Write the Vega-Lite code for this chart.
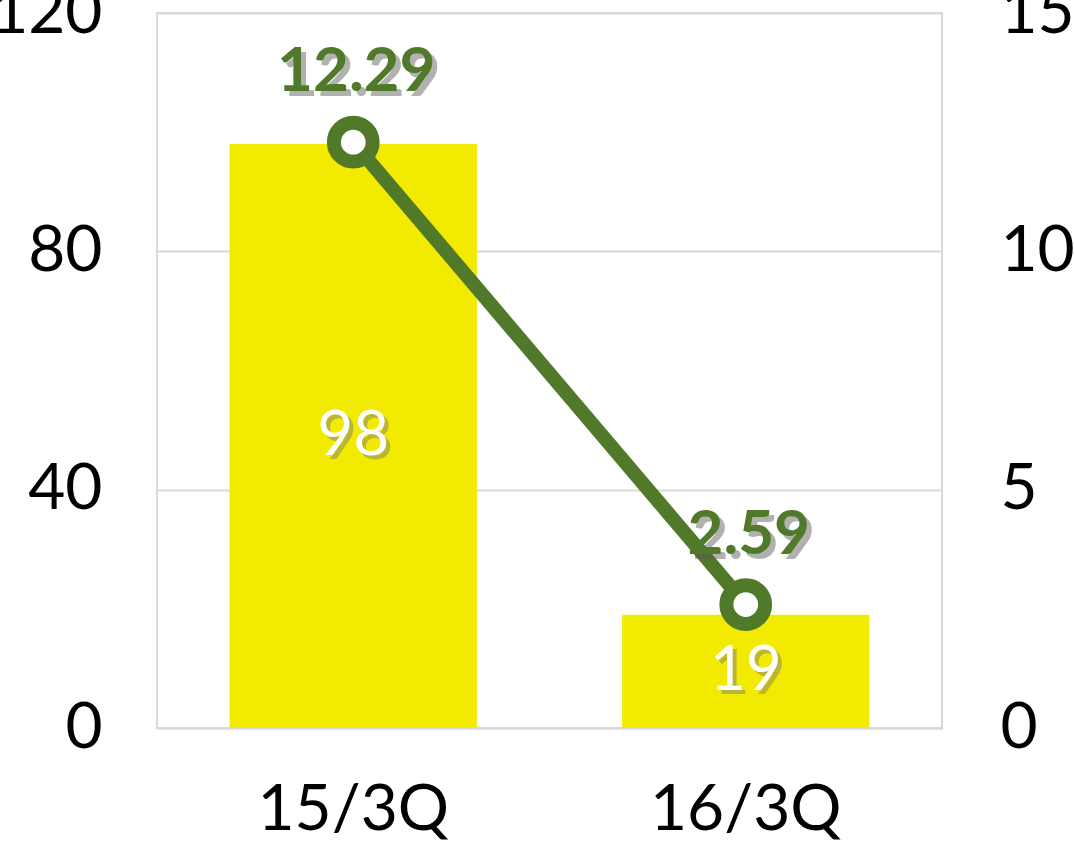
{
  "$schema": "https://vega.github.io/schema/vega-lite/v6.json",
  "autosize": {"type": "none"},
  "width": 785,
  "height": 715,
  "padding": {"left": 157, "top": 13, "right": 132, "bottom": 114},
  "background": "white",
  "config": {
    "font": "Lato",
    "view": {"stroke": "#d9d9d9", "strokeWidth": 2},
    "axis": {"labelFont": "Lato", "labelColor": "#000000", "labelFontSize": 64, "labelLimit": 0, "ticks": false, "domain": false, "title": null}
  },
  "data": {"values": [
    {"period": "15/3Q", "count": 98, "value": 12.29},
    {"period": "16/3Q", "count": 19, "value": 2.59}
  ]},
  "encoding": {
    "x": {"field": "period", "type": "nominal", "sort": null,
      "scale": {"paddingInner": 0.37, "paddingOuter": 0.185},
      "axis": {"labelAngle": 0, "labelPadding": 50, "labelLimit": 0, "grid": false, "domain": true, "domainColor": "#d9d9d9", "domainWidth": 2}}
  },
  "layer": [
    {
      "layer": [
        {"mark": {"type": "bar", "color": "#F2EA00"},
         "encoding": {"y": {"field": "count", "type": "quantitative",
           "scale": {"domain": [0, 120]},
           "axis": {"values": [0, 40, 80, 120], "labelPadding": 55, "grid": true, "gridColor": "#d9d9d9", "gridWidth": 2, "orient": "left"}}}},
        {"transform": [{"calculate": "datum.count / 2", "as": "mid"}],
         "mark": {"type": "text", "color": "#777777", "opacity": 0.45, "fontSize": 62, "baseline": "middle", "dx": 4, "dy": 4},
         "encoding": {"y": {"field": "mid", "type": "quantitative"}, "text": {"field": "count"}}},
        {"transform": [{"calculate": "datum.count / 2", "as": "mid"}],
         "mark": {"type": "text", "color": "#ffffff", "fontSize": 62, "baseline": "middle"},
         "encoding": {"y": {"field": "mid", "type": "quantitative"}, "text": {"field": "count"}}}
      ]
    },
    {
      "encoding": {"y": {"field": "value", "type": "quantitative",
        "scale": {"domain": [0, 15]},
        "axis": {"values": [0, 5, 10, 15], "orient": "right", "labelPadding": 58, "grid": false}}},
      "layer": [
        {"mark": {"type": "line", "color": "#507A2A", "strokeWidth": 14}},
        {"mark": {"type": "point", "shape": "circle", "filled": false, "fill": "#ffffff", "fillOpacity": 1, "stroke": "#507A2A", "strokeWidth": 14, "opacity": 1, "size": 1500}},
        {"mark": {"type": "text", "color": "#555555", "opacity": 0.45, "fontSize": 62, "fontWeight": "bold", "baseline": "middle", "dx": 8, "dy": -65},
         "encoding": {"text": {"field": "value", "format": ".2f"}}},
        {"mark": {"type": "text", "color": "#507A2A", "fontSize": 62, "fontWeight": "bold", "baseline": "middle", "dx": 3, "dy": -70},
         "encoding": {"text": {"field": "value", "format": ".2f"}}}
      ]
    }
  ],
  "resolve": {"scale": {"y": "independent"}, "axis": {"y": "independent"}}
}
